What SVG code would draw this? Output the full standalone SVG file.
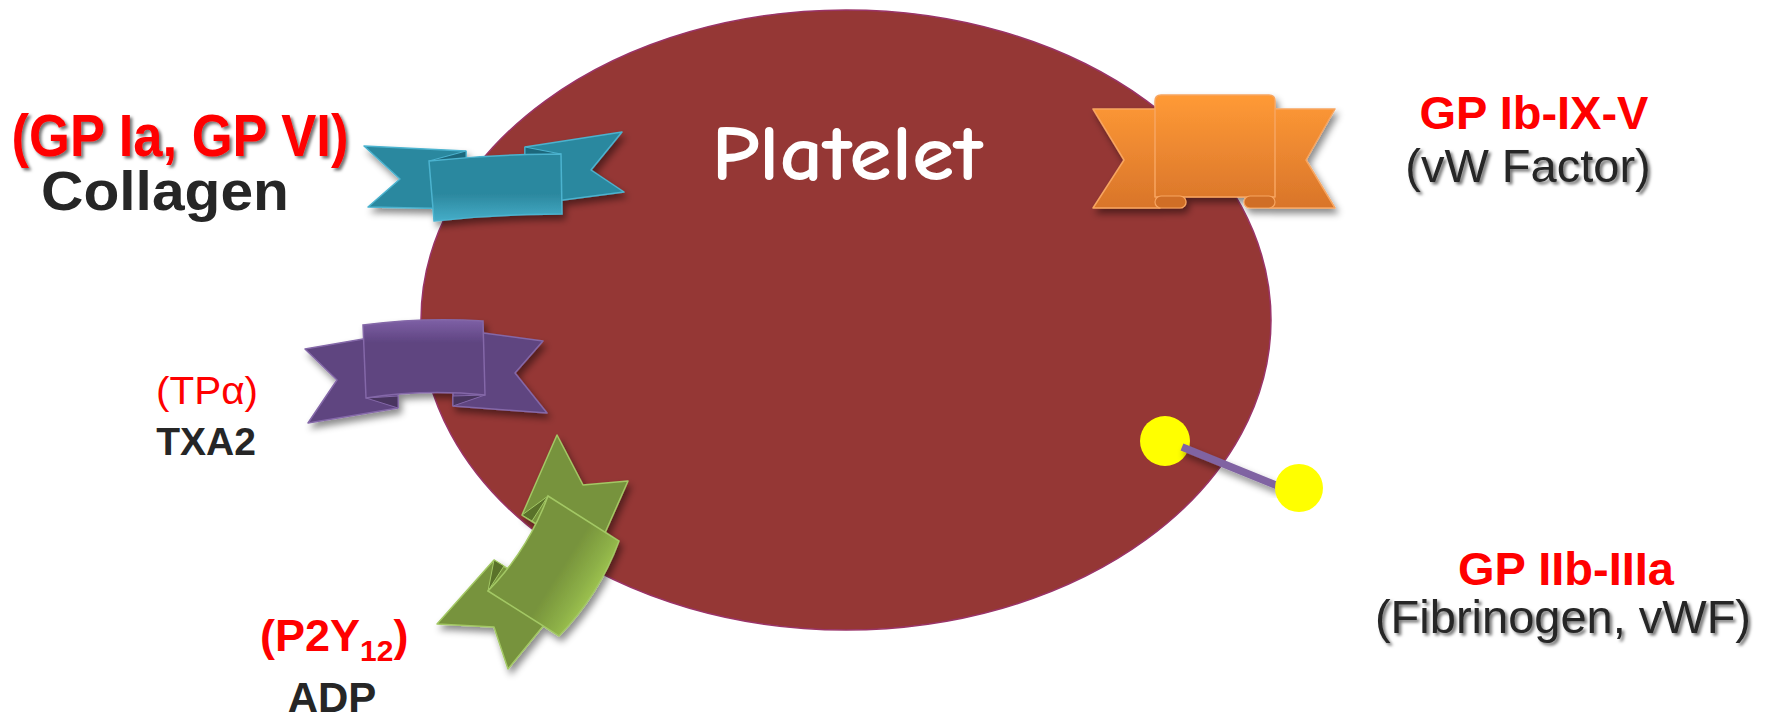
<svg xmlns="http://www.w3.org/2000/svg" width="1772" height="718" viewBox="0 0 1772 718">
  <style>
    .lbl { font-family: "Liberation Sans", Arial, sans-serif; text-anchor: middle; }
    .red { fill: #FF0000; }
    .dark { fill: #262626; }
    .b { font-weight: bold; }
    .teal { fill: #2C889F; stroke: #4BB3CF; stroke-width: 1.5; stroke-linejoin: round; }
    .teal-fold { fill: #1F687C; stroke: #4BB3CF; stroke-width: 1; }
    .purple { fill: #5E4480; stroke: #8468A8; stroke-width: 1.5; stroke-linejoin: round; }
    .purple-fold { fill: #48345F; stroke: #8468A8; stroke-width: 1; }
    .green { fill: #77933C; stroke: #A3C865; stroke-width: 1.5; stroke-linejoin: round; }
    .green-fold { fill: #5A722C; stroke: #A3C865; stroke-width: 1; }
    .orange { stroke: #F7A560; stroke-width: 1.5; stroke-linejoin: round; }
  </style>
  <defs>
    <filter id="shadow" x="-20%" y="-20%" width="140%" height="150%">
      <feDropShadow dx="3" dy="5" stdDeviation="3.5" flood-color="#000" flood-opacity="0.45"/>
    </filter>
    <filter id="textShadow" x="-5%" y="-20%" width="110%" height="150%">
      <feDropShadow dx="2.5" dy="2.5" stdDeviation="1.5" flood-color="#000" flood-opacity="0.55"/>
    </filter>
    <linearGradient id="tealBand" x1="0" y1="0" x2="0" y2="1">
      <stop offset="0" stop-color="#2C889F"/>
      <stop offset="0.6" stop-color="#2C889F"/>
      <stop offset="1" stop-color="#45ADC8"/>
    </linearGradient>
    <linearGradient id="purpleBand" x1="0" y1="0" x2="0" y2="1">
      <stop offset="0" stop-color="#7E60A6"/>
      <stop offset="0.3" stop-color="#5E4480"/>
      <stop offset="1" stop-color="#5E4480"/>
    </linearGradient>
    <linearGradient id="orangeGrad" gradientUnits="userSpaceOnUse" x1="0" y1="95" x2="0" y2="210">
      <stop offset="0" stop-color="#FF9A36"/>
      <stop offset="1" stop-color="#D8742A"/>
    </linearGradient>
    <linearGradient id="greenBand" gradientUnits="userSpaceOnUse" x1="518" y1="543" x2="595" y2="592">
      <stop offset="0" stop-color="#77933C"/>
      <stop offset="0.55" stop-color="#77933C"/>
      <stop offset="0.85" stop-color="#8DB047"/>
      <stop offset="1" stop-color="#9DC250"/>
    </linearGradient>
  </defs>

  <rect width="1772" height="718" fill="#FFFFFF"/>

  <!-- cell body -->
  <g id="platelet">
    <ellipse cx="846" cy="320" rx="425" ry="310" fill="#953735" stroke="#9A3468" stroke-width="1.5"/>
    <text x="847" y="180" font-family="'Comic Sans MS', 'Comic Neue', Lato, sans-serif" font-weight="bold" font-size="78" fill="#FFFFFF" text-anchor="middle" textLength="271" lengthAdjust="spacingAndGlyphs">Platelet</text>
  </g>

  <!-- collagen receptor ribbon -->
  <g id="collagen-receptor">
    <g filter="url(#shadow)">
      <path class="teal" d="M364,146 L466,151 L466,209 L368,207 L400,179 Z"/>
      <path class="teal" d="M525,147 L622,132 L591,170 L624,192 L525,205 Z"/>
      <path class="teal-fold" d="M429,161 L466,151 L466,159 Z"/>
      <path class="teal-fold" d="M561,154 L525,147 L525,156 Z"/>
      <path d="M429,161 Q495,154 561,154 L562,214 Q498,214 434,221 Z" fill="url(#tealBand)" stroke="#4BB3CF" stroke-width="1.5"/>
    </g>
    <text class="lbl b red" x="180" y="156" font-size="60" textLength="337" lengthAdjust="spacingAndGlyphs" filter="url(#textShadow)">(GP Ia, GP VI)</text>
    <text class="lbl b dark" x="165" y="210" font-size="55" textLength="248" lengthAdjust="spacingAndGlyphs">Collagen</text>
  </g>

  <!-- thromboxane receptor ribbon -->
  <g id="txa2-receptor">
    <g filter="url(#shadow)">
      <path class="purple" d="M305,349 L398,333 L398,408 L308,423 L337,380 Z"/>
      <path class="purple" d="M453,329 L543,341 L515,373 L547,413 L453,406 Z"/>
      <path class="purple-fold" d="M366,398 L398,396 L398,408 Z"/>
      <path class="purple-fold" d="M485,395 L453,396 L453,406 Z"/>
      <path d="M363,325 Q424,317 483,321 L485,395 Q425,389 366,398 Z" fill="url(#purpleBand)" stroke="#8468A8" stroke-width="1.5"/>
    </g>
    <text class="lbl red" x="207" y="404" font-size="39" textLength="102" lengthAdjust="spacingAndGlyphs">(TPα)</text>
    <text class="lbl b dark" x="206" y="455" font-size="39">TXA2</text>
  </g>

  <!-- ADP receptor ribbon -->
  <g id="adp-receptor">
    <g filter="url(#shadow)">
      <path class="green" d="M557,435 L583,485 L628,481 L593,560 L522,515 Z"/>
      <path class="green" d="M437,624 L494,560 L562,603 L508,669 L494,627 Z"/>
      <path class="green-fold" d="M548,496 L532,521 L522,515 Z"/>
      <path class="green-fold" d="M488,591 L504,566 L494,560 Z"/>
      <path d="M548,496 L619,541 Q599,595 559,636 L488,591 Q528,550 548,496 Z" fill="url(#greenBand)" stroke="#A3C865" stroke-width="1.5"/>
    </g>
    <text font-family="'Liberation Sans', Arial, sans-serif" font-weight="bold" class="red" x="260" y="651" font-size="45">(P2Y<tspan font-size="30" dy="10">12</tspan><tspan dy="-10">)</tspan></text>
    <text class="lbl b dark" x="332" y="712" font-size="42">ADP</text>
  </g>

  <!-- von Willebrand receptor ribbon -->
  <g id="vwf-receptor">
    <g filter="url(#shadow)" fill="url(#orangeGrad)">
      <path class="orange" d="M1093,109 L1160,109 L1160,208 L1093,208 L1124,160 Z"/>
      <path class="orange" d="M1335,109 L1270,109 L1270,208 L1335,208 L1306,160 Z"/>
      <path class="orange" d="M1155,101 Q1155,95 1161,95 L1269,95 Q1275,95 1275,101 L1275,197 L1155,197 Z"/>
      <rect x="1155" y="196" width="31" height="12" rx="6" fill="#D06E25" stroke="#F7A560" stroke-width="1.2"/>
      <rect x="1244" y="196" width="31" height="12" rx="6" fill="#D06E25" stroke="#F7A560" stroke-width="1.2"/>
    </g>
    <text class="lbl b red" x="1534" y="129" font-size="47">GP Ib-IX-V</text>
    <text class="lbl dark" x="1528" y="182" font-size="47" filter="url(#textShadow)">(vW Factor)</text>
  </g>

  <!-- integrin with bound ligand -->
  <g id="integrin">
    <circle cx="1165" cy="441" r="25" fill="#FFFF00"/>
    <line x1="1182" y1="447" x2="1278" y2="486" stroke="#8064A2" stroke-width="7.5" filter="url(#shadow)"/>
    <circle cx="1299" cy="488" r="24" fill="#FFFF00"/>
    <text class="lbl b red" x="1566" y="585" font-size="47">GP IIb-IIIa</text>
    <text class="lbl dark" x="1563" y="633" font-size="47" filter="url(#textShadow)">(Fibrinogen, vWF)</text>
  </g>
</svg>
